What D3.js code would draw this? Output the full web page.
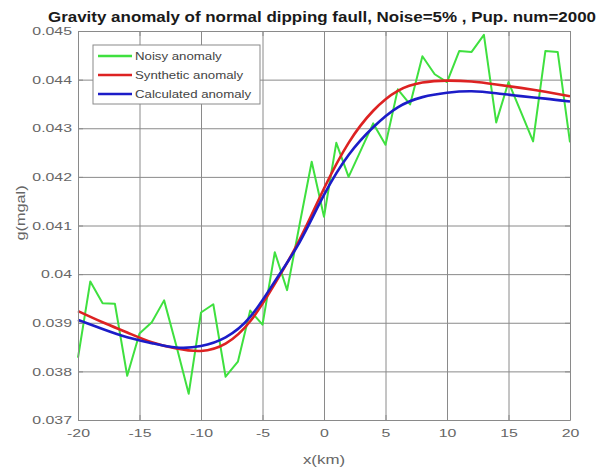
<!DOCTYPE html>
<html>
<head>
<meta charset="utf-8">
<script src="https://cdn.jsdelivr.net/npm/d3@7"></script>
<style>
  body { margin: 0; background: #fff; }
  text { font-family: "Liberation Sans", Arial, sans-serif; }
</style>
</head>
<body>
<script>
// noisy anomaly, sampled every 1 km
var noisyX = d3.range(-20, 21, 1);
var noisyY = [0.03828, 0.03985, 0.03940, 0.03939, 0.03791, 0.03878, 0.03901, 0.03946, 0.03852, 0.03754,
              0.03921, 0.03938, 0.03789, 0.03820, 0.03925, 0.03896, 0.04045, 0.03967, 0.04100, 0.04231,
              0.04118, 0.04270, 0.04200, 0.04255, 0.04310, 0.04266, 0.04380, 0.04349, 0.04448, 0.04411,
              0.04395, 0.04459, 0.04457, 0.04492, 0.04312, 0.04395, 0.04334, 0.04273, 0.04459, 0.04457,
              0.04271];

// smooth curves read every 2 km
var curveX = [-20, -18, -16, -14, -12, -10, -8, -6, -4, -2, 0, 2, 4, 6, 8, 10, 12, 14, 16, 18, 20];
var syntheticY = [0.03924, 0.03901, 0.03880, 0.03860, 0.03847, 0.03842, 0.03857, 0.03903, 0.03980, 0.04070,
                  0.04176, 0.04270, 0.04336, 0.04377, 0.04394, 0.04398, 0.04396, 0.04390, 0.04383, 0.04375,
                  0.04366];
var calculatedY = [0.03906, 0.03887, 0.03870, 0.03858, 0.03849, 0.03852, 0.03870, 0.03912, 0.03985, 0.04065,
                   0.04163, 0.04245, 0.04302, 0.04343, 0.04364, 0.04373, 0.04376, 0.04372, 0.04366, 0.04361,
                   0.04355];

var xTicks = [-20, -15, -10, -5, 0, 5, 10, 15, 20];
var yTicks = [0.037, 0.038, 0.039, 0.04, 0.041, 0.042, 0.043, 0.044, 0.045];
var seriesNames = ["Noisy anomaly", "Synthetic anomaly", "Calculated anomaly"];
var seriesColors = ["#3fe03f", "#dd2222", "#1c1cc8"];

var width = 611, height = 470;
var margin = { top: 31, right: 41, bottom: 50, left: 78 };
var chartWidth = width - margin.left - margin.right;
var chartHeight = height - margin.top - margin.bottom;

// fonts in the picture look wider than Arial
function stretch(sel, k) {
    sel.each(function () {
        var L = this.getComputedTextLength();
        this.setAttribute("textLength", L * k);
        this.setAttribute("lengthAdjust", "spacingAndGlyphs");
    });
}

var svg = d3.select("body").append("svg")
    .attr("width", width)
    .attr("height", height);

var g = svg.append("g")
    .attr("transform", "translate(" + margin.left + "," + margin.top + ")");

var xScale = d3.scaleLinear().domain([-20, 20]).range([0, chartWidth]);
var yScale = d3.scaleLinear().domain([0.037, 0.045]).range([chartHeight, 0]);

// grid
g.append("g")
    .attr("class", "grid")
    .attr("transform", "translate(0," + chartHeight + ")")
    .call(d3.axisBottom(xScale).tickValues(xTicks).tickSize(-chartHeight).tickFormat(""));
g.append("g")
    .attr("class", "grid")
    .call(d3.axisLeft(yScale).tickValues(yTicks).tickSize(-chartWidth).tickFormat(""));
g.selectAll(".grid line").attr("stroke", "#e4e4e4").attr("stroke-width", 1);
g.selectAll(".grid .domain").remove();

// lines
var noisy = noisyX.map(function (x, i) { return { x: x, y: noisyY[i] }; });
var synthetic = curveX.map(function (x, i) { return { x: x, y: syntheticY[i] }; });
var calculated = curveX.map(function (x, i) { return { x: x, y: calculatedY[i] }; });

var straight = d3.line()
    .x(function (d) { return xScale(d.x); })
    .y(function (d) { return yScale(d.y); });
var smooth = d3.line()
    .curve(d3.curveNatural)
    .x(function (d) { return xScale(d.x); })
    .y(function (d) { return yScale(d.y); });

g.append("path").datum(noisy)
    .attr("fill", "none").attr("stroke", seriesColors[0])
    .attr("stroke-width", 2).attr("stroke-linejoin", "round")
    .attr("d", straight);
g.append("path").datum(synthetic)
    .attr("fill", "none").attr("stroke", seriesColors[1])
    .attr("stroke-width", 2.6)
    .attr("d", smooth);
g.append("path").datum(calculated)
    .attr("fill", "none").attr("stroke", seriesColors[2])
    .attr("stroke-width", 2.6)
    .attr("d", smooth);

// axes, ticks pointing in, box on all sides
var axisColor = "#8a8a8a";
g.append("g")
    .attr("transform", "translate(0," + chartHeight + ")")
    .call(d3.axisBottom(xScale).tickValues(xTicks).tickSizeInner(-5).tickSizeOuter(0).tickPadding(9)
        .tickFormat(function (d) { return String(d); }));
g.append("g")
    .call(d3.axisLeft(yScale).tickValues(yTicks).tickSizeInner(-5).tickSizeOuter(0).tickPadding(6)
        .tickFormat(d3.format("~g")));
g.append("g")
    .call(d3.axisTop(xScale).tickValues(xTicks).tickSizeInner(-5).tickSizeOuter(0).tickFormat(""));
g.append("g")
    .attr("transform", "translate(" + chartWidth + ",0)")
    .call(d3.axisRight(yScale).tickValues(yTicks).tickSizeInner(-5).tickSizeOuter(0).tickFormat(""));
g.selectAll(".domain, .tick line").attr("stroke", axisColor);

g.selectAll(".tick text")
    .attr("fill", "#666")
    .style("font-size", "11.5px");
stretch(g.selectAll(".tick text"), 1.38);

// axis labels
var xLab = svg.append("text")
    .attr("x", margin.left + chartWidth / 2)
    .attr("y", 464)
    .attr("text-anchor", "middle")
    .attr("fill", "#666")
    .style("font-size", "12.5px")
    .text("x(km)");
stretch(xLab, 1.35);

var yLab = svg.append("text")
    .attr("transform", "translate(25,213) rotate(-90)")
    .attr("text-anchor", "middle")
    .attr("fill", "#666")
    .style("font-size", "12.5px")
    .text("g(mgal)");
stretch(yLab, 1.3);

// title
svg.append("text")
    .attr("x", 322)
    .attr("y", 22)
    .attr("text-anchor", "middle")
    .attr("fill", "#1a1a1a")
    .style("font-size", "14.5px")
    .style("font-weight", "bold")
    .attr("textLength", 548)
    .attr("lengthAdjust", "spacingAndGlyphs")
    .text("Gravity anomaly of normal dipping faull, Noise=5% , Pup. num=2000");

// legend
var legend = svg.append("g").attr("transform", "translate(93,45)");
legend.append("rect")
    .attr("width", 167).attr("height", 59)
    .attr("fill", "#fff").attr("stroke", "#8a8a8a").attr("stroke-width", 1);
seriesNames.forEach(function (name, i) {
    var yy = 11 + i * 19;
    legend.append("line")
        .attr("x1", 5).attr("x2", 39).attr("y1", yy).attr("y2", yy)
        .attr("stroke", seriesColors[i]).attr("stroke-width", 2.4);
    var t = legend.append("text")
        .attr("x", 42).attr("y", yy + 4)
        .attr("fill", "#444")
        .style("font-size", "11.5px")
        .text(name);
    stretch(t, 1.15);
});
</script>
</body>
</html>
